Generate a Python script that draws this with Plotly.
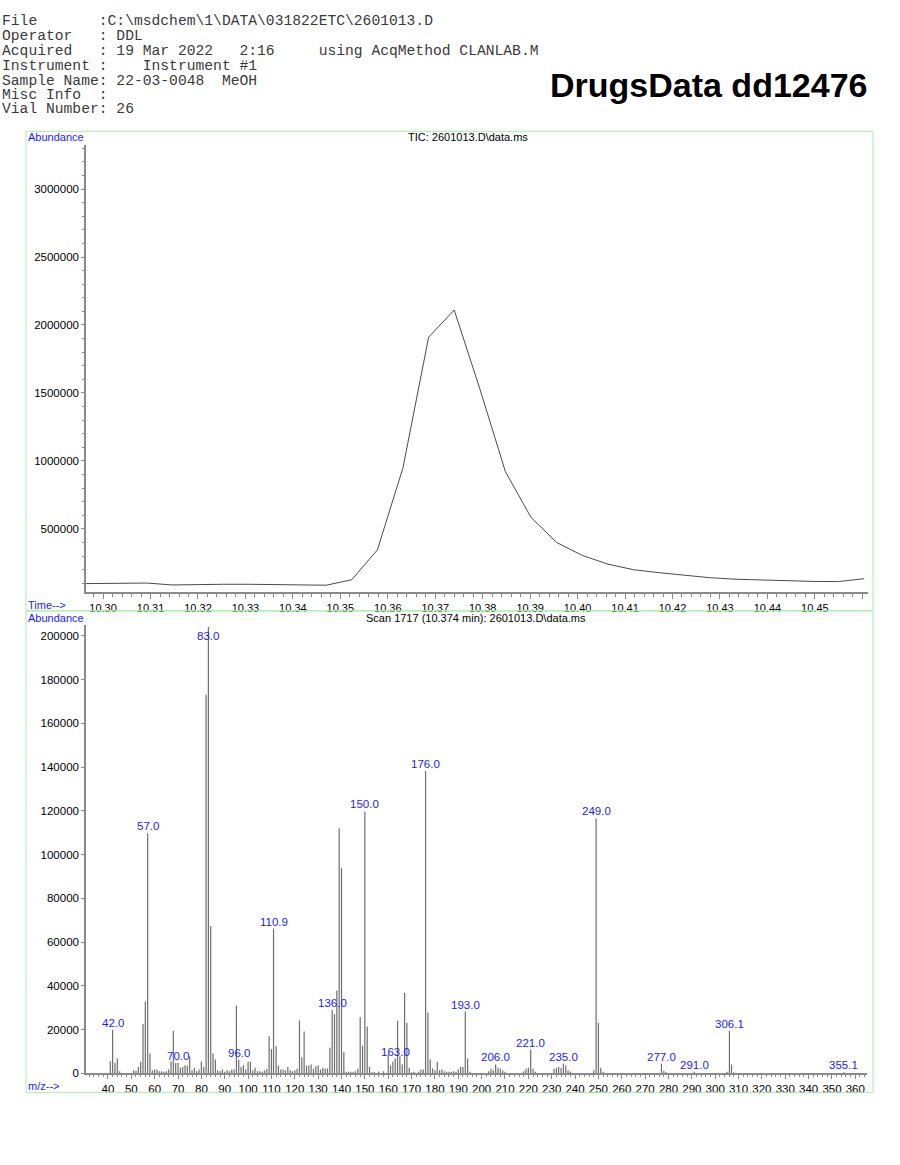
import plotly.graph_objects as go

# ---------------- data ----------------
header_lines = [
    "File       :C:\\msdchem\\1\\DATA\\031822ETC\\2601013.D",
    "Operator   : DDL",
    "Acquired   : 19 Mar 2022   2:16     using AcqMethod CLANLAB.M",
    "Instrument :    Instrument #1",
    "Sample Name: 22-03-0048  MeOH",
    "Misc Info  :",
    "Vial Number: 26",
]
title_text = "DrugsData dd12476"
tic_title = "TIC: 2601013.D\\data.ms"
scan_title = "Scan 1717 (10.374 min): 2601013.D\\data.ms"

# TIC chromatogram
tic_time = [10.2930, 10.2984, 10.3038, 10.3092, 10.3146, 10.3200, 10.3254, 10.3308,
            10.3362, 10.3416, 10.3470, 10.3524, 10.3578, 10.3632, 10.3686, 10.3740,
            10.3794, 10.3848, 10.3902, 10.3956, 10.4010, 10.4064, 10.4118, 10.4172,
            10.4226, 10.4280, 10.4334, 10.4388, 10.4442, 10.4496, 10.4550, 10.4604]
tic_abundance = [97000, 97000, 100000, 102000, 88000, 93000, 93000, 93000,
                 90000, 87000, 86000, 126000, 345000, 950000, 1910000, 2110000,
                 1530000, 920000, 584000, 400000, 305000, 241000, 200000, 178000,
                 160000, 141000, 130000, 124000, 118000, 114000, 113000, 134000]

tic_xticks = [10.30, 10.31, 10.32, 10.33, 10.34, 10.35, 10.36, 10.37, 10.38,
              10.39, 10.40, 10.41, 10.42, 10.43, 10.44, 10.45, 10.46]
tic_xlabels = ["10.30", "10.31", "10.32", "10.33", "10.34", "10.35", "10.36", "10.37",
               "10.38", "10.39", "10.40", "10.41", "10.42", "10.43", "10.44", "10.45", ""]
tic_yticks = [500000, 1000000, 1500000, 2000000, 2500000, 3000000]
tic_ylabels = ["500000", "1000000", "1500000", "2000000", "2500000", "3000000"]

# Mass spectrum (scan 1717)
ms_mz = [41, 42, 43, 44, 45, 51, 52, 53, 54, 55, 56, 57, 58, 59, 60, 61, 62, 63, 64, 65,
         66, 67, 68, 69, 70, 71, 72, 73, 74, 75, 76, 77, 78, 79, 80, 81, 82, 83, 84, 85,
         86, 87, 88, 89, 90, 91, 92, 93, 94, 95, 96, 97, 98, 99, 100, 101, 102, 103, 104,
         105, 106, 107, 108, 109, 110, 110.9, 112, 113, 114, 115, 116, 117, 118, 119, 120,
         121, 122, 123, 124, 125, 126, 127, 128, 129, 130, 131, 132, 133, 134, 135, 136,
         137, 138, 139, 140, 141, 142, 143, 144, 145, 146, 147, 148, 149, 150, 151, 152,
         153, 154, 156, 158, 160, 161, 162, 163, 164, 165, 166, 167, 168, 169, 170, 171,
         173, 174, 175, 176, 177, 178, 179, 180, 181, 182, 183, 184, 185, 186, 187, 188,
         189, 190, 191, 192, 193, 194, 195, 203, 204, 205, 206, 207, 208, 209, 210, 218,
         219, 220, 221, 222, 223, 231, 232, 233, 234, 235, 236, 237, 238, 248, 249, 250,
         251, 252, 277, 278, 279, 291, 305, 306.1, 307, 308, 355.1]
ms_abundance = [5600, 20000, 4800, 6800, 1000, 1500, 1200, 3000, 5300, 22600, 32900, 109800,
                9100, 1500, 1800, 1800, 1000, 1000, 800, 1000,
                1800, 5600, 19500, 4800, 4800, 2600, 2900, 3800, 3500, 7900, 1500, 2600,
                1000, 1800, 5500, 3000, 173000, 204000, 67400, 9100,
                6400, 1400, 1000, 1800, 800, 1500, 1000, 1800, 1800, 31000, 6100, 3000,
                3800, 1800, 5300, 5300, 1500, 2600, 1000,
                1000, 800, 1500, 2100, 17000, 11200, 66200, 12400, 3600, 1800, 1800, 1500,
                3000, 1500, 1000, 1500,
                2100, 24200, 7400, 19200, 3600, 3600, 4100, 2100, 3300, 3800, 1800, 2600,
                2300, 2300, 11700, 29100,
                27100, 37900, 112000, 93800, 9800, 800, 800, 800, 800, 1000, 2100, 25800,
                12700, 119700, 21500, 3000,
                600, 700, 800, 1000, 8600, 3600, 5300, 6800, 24100, 7900, 4100, 36800, 23000,
                2600, 600, 800,
                800, 1800, 1800, 138200, 27900, 6400, 2300, 1500, 5300, 1500, 1800, 1000, 800,
                800, 800, 1000,
                800, 1800, 2900, 2900, 28300, 6800, 800, 1000, 2100, 1500, 4100, 2600, 2100,
                1400, 800, 1000,
                2100, 2600, 10900, 2100, 800, 2000, 2600, 3000, 2500, 4500, 3600, 1500, 800,
                1500, 116500, 23000,
                2600, 800, 4400, 1200, 600, 800, 800, 19500, 4100, 600, 500]

label_mz = [42, 57, 70, 83, 96, 110.9, 136, 150, 163, 176, 193, 206, 221, 235, 249,
            277, 291, 306.1, 355.1]
label_text = ["42.0", "57.0", "70.0", "83.0", "96.0", "110.9", "136.0", "150.0", "163.0",
              "176.0", "193.0", "206.0", "221.0", "235.0", "249.0", "277.0", "291.0",
              "306.1", "355.1"]

ms_xticks = [40, 50, 60, 70, 80, 90, 100, 110, 120, 130, 140, 150, 160, 170, 180, 190,
             200, 210, 220, 230, 240, 250, 260, 270, 280, 290, 300, 310, 320, 330, 340,
             350, 360]
ms_yticks = [0, 20000, 40000, 60000, 80000, 100000, 120000, 140000, 160000, 180000, 200000]

# ---------------- figure ----------------
W, H = 900, 1165
SANS = "Liberation Sans, Arial, sans-serif"
MONO = "Liberation Mono, Courier New, monospace"
BLUE = "#1a1aff"
AXIS = "#8a8a8a"
GREEN = "#a6f0a6"
FS = 11


def px(x):
    return x / W


def py(y):
    return 1 - y / H


fig = go.Figure()

fig.add_trace(go.Scatter(x=tic_time, y=tic_abundance, mode="lines",
                         line=dict(color="#4a4a4a", width=1),
                         xaxis="x", yaxis="y", showlegend=False, hoverinfo="skip"))

sx, sy = [], []
for m, a in zip(ms_mz, ms_abundance):
    sx += [m, m, None]
    sy += [0, a, None]
fig.add_trace(go.Scatter(x=sx, y=sy, mode="lines",
                         line=dict(color="#6e6e6e", width=1.2),
                         xaxis="x2", yaxis="y2", showlegend=False, hoverinfo="skip"))

ms_ymax = 205000
annotations = []
ab = dict(zip(ms_mz, ms_abundance))
for m, t in zip(label_mz, label_text):
    yv = min(ab.get(m, 0), 0.96 * ms_ymax)
    annotations.append(dict(x=m, y=yv, xref="x2", yref="y2", text=t, showarrow=False,
                            xanchor="center", yanchor="bottom", yshift=-1,
                            font=dict(family=SANS, size=11.5, color=BLUE)))

header_y = [21, 36, 51, 66, 81, 95.5, 110]
for line, yy in zip(header_lines, header_y):
    annotations.append(dict(x=0, y=py(yy), xref="paper", yref="paper",
                            text=line.replace(" ", "\u00a0"), showarrow=False,
                            xanchor="left", yanchor="middle",
                            font=dict(family=MONO, size=14.67, color="#3a3a3a")))

annotations.append(dict(x=px(869), y=py(85), xref="paper", yref="paper",
                        text="<b>" + title_text + "</b>", showarrow=False,
                        xanchor="right", yanchor="middle",
                        font=dict(family=SANS, size=34, color="#000000")))

small = dict(family=SANS, size=FS)
annotations += [
    dict(x=px(26), y=py(138), xref="paper", yref="paper", text="Abundance", showarrow=False,
         xanchor="left", yanchor="middle", font=dict(small, color=BLUE)),
    dict(x=px(468), y=py(138), xref="paper", yref="paper", text=tic_title, showarrow=False,
         xanchor="center", yanchor="middle", font=dict(small, color="#000000")),
    dict(x=px(26), y=py(608), xref="paper", yref="paper", text="Time-->", showarrow=False,
         xanchor="left", yanchor="middle", font=dict(small, color=BLUE)),
    dict(x=px(26), y=py(621.5), xref="paper", yref="paper", text="Abundance", showarrow=False,
         xanchor="left", yanchor="middle", font=dict(small, color=BLUE)),
    dict(x=px(476), y=py(621.5), xref="paper", yref="paper", text=scan_title, showarrow=False,
         xanchor="center", yanchor="middle", font=dict(small, color="#000000")),
    dict(x=px(26), y=py(1092), xref="paper", yref="paper", text="m/z-->", showarrow=False,
         xanchor="left", yanchor="middle", font=dict(small, color=BLUE)),
]

shapes = [
    dict(type="rect", xref="paper", yref="paper", x0=px(26), x1=px(873), y0=py(614), y1=py(132),
         line=dict(color=GREEN, width=1)),
    dict(type="rect", xref="paper", yref="paper", x0=px(26), x1=px(873), y0=py(1098), y1=py(614),
         line=dict(color=GREEN, width=1)),
]

axis_common = dict(showline=True, linecolor=AXIS, linewidth=1.5, showgrid=False,
                   zeroline=False, ticks="outside", tickcolor=AXIS, tickwidth=1,
                   tickfont=dict(family=SANS, size=11.5, color="#000000"), mirror=False)

fig.update_layout(
    width=W, height=H, margin=dict(l=0, r=0, t=0, b=0), autosize=False,
    paper_bgcolor="white", plot_bgcolor="white",
    xaxis=dict(axis_common, domain=[px(86), px(868)], range=[10.2964, 10.4612],
               anchor="y", tickmode="array", tickvals=tic_xticks, ticktext=tic_xlabels,
               ticklen=5, tickfont=dict(family=SANS, size=FS, color="#000000"),
               minor=dict(tick0=10.30, dtick=0.002, ticklen=3, ticks="outside",
                          tickcolor=AXIS, showgrid=False)),
    yaxis=dict(axis_common, domain=[py(595), py(146)], range=[36600, 3322000],
               anchor="x", tickmode="array", tickvals=tic_yticks, ticktext=tic_ylabels,
               ticklen=3,
               minor=dict(tick0=0, dtick=100000, ticklen=2, ticks="outside",
                          tickcolor=AXIS, showgrid=False)),
    xaxis2=dict(axis_common, domain=[px(86), px(867)], range=[30.6, 365],
                anchor="y2", tickmode="array", tickvals=ms_xticks,
                ticktext=[str(v) for v in ms_xticks], ticklen=4,
                minor=dict(tick0=0, dtick=2, ticklen=2, ticks="outside",
                           tickcolor=AXIS, showgrid=False)),
    yaxis2=dict(axis_common, domain=[py(1079), py(628)], range=[0, ms_ymax],
                anchor="x2", tickmode="array", tickvals=ms_yticks,
                ticktext=[str(v) for v in ms_yticks], ticklen=3),
    annotations=annotations,
    shapes=shapes,
)

fig.write_html("out.html", config={"displayModeBar": False, "responsive": False},
               post_script="document.body.style.margin='0';"
                           "document.documentElement.style.overflow='hidden';"
                           "document.body.style.overflow='hidden';")
